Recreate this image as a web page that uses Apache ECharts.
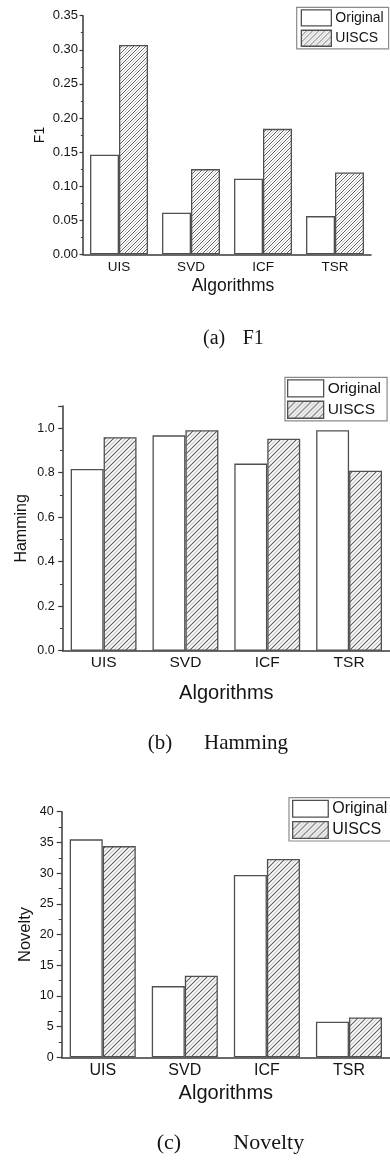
<!DOCTYPE html>
<html>
<head>
<meta charset="utf-8">
<title>Algorithms comparison</title>
<script src="https://cdn.jsdelivr.net/npm/echarts@6/dist/echarts.min.js"></script>
<style>
  html, body { margin: 0; padding: 0; background: #fff; }
  #chart { width: 390px; height: 1162px; }
</style>
</head>
<body>
<div id="chart"></div>
<script>
// Categories and series values
const categories = ['UIS', 'SVD', 'ICF', 'TSR'];
const seriesNames = ['Original', 'UISCS'];

const f1Original = [0.146, 0.061, 0.111, 0.056];
const f1Uiscs = [0.307, 0.125, 0.184, 0.120];

const hammingOriginal = [0.817, 0.968, 0.841, 0.991];
const hammingUiscs = [0.960, 0.991, 0.953, 0.809];

const noveltyOriginal = [35.5, 11.6, 29.7, 5.8];
const noveltyUiscs = [34.4, 13.3, 32.3, 6.5];

// Value axis ranges: [min, max, interval]
const f1Range = [0, 0.35, 0.05];
const hammingRange = [0, 1.1, 0.2];
const noveltyRange = [0, 40, 5];

// Sub-figure captions
const captions = [
  ['(a)', 'F1'],
  ['(b)', 'Hamming'],
  ['(c)', 'Novelty']
];

const SANS = "'Liberation Sans', Arial, sans-serif";
const SERIF = "'Liberation Serif', 'Times New Roman', serif";
const INK = '#141414';
const AXIS = '#3a3a3a';
const EDGE = '#505050';

// Diagonal hatch tile: dark "/" strokes with a lighter stroke between them
function hatch(size, dark, light, lw) {
  const c = document.createElement('canvas');
  c.width = size; c.height = size;
  const g = c.getContext('2d');
  g.fillStyle = '#fff';
  g.fillRect(0, 0, size, size);
  g.lineCap = 'square';
  function stroke(color, segs) {
    g.strokeStyle = color;
    g.lineWidth = lw;
    g.beginPath();
    segs.forEach(s => { g.moveTo(s[0], s[1]); g.lineTo(s[2], s[3]); });
    g.stroke();
  }
  const h = size / 2;
  stroke(dark, [[0, size, size, 0], [-h, h, h, -h], [h, size + h, size + h, h]]);
  stroke(light, [[0, h, h, 0], [h, size, size, h]]);
  return { image: c, repeat: 'repeat' };
}

const hatchSmall = hatch(6, '#5a5a5a', '#c4c4c4', 1);
const hatchLarge = hatch(8, '#5a5a5a', '#c4c4c4', 1.1);

const panels = [
  {
    grid: { left: 83, top: 15.7, width: 288, height: 238.6 },
    range: f1Range, digits: 2, name: 'F1',
    data: [f1Original, f1Uiscs], pattern: hatchSmall,
    tickFont: 13, catFont: 13.5, nameFont: 14, titleFont: 17.5,
    labelMargin: 6, yLabelMargin: 5, tickLen: 3.5, yNameGap: 36,
    xNameGap: 23, xNamePad: [0, 0, 0, 12],
    legend: { left: 296.7, top: 7.3, itemWidth: 30, itemHeight: 16, itemGap: 3, font: 14, padding: [2, 5, 2, 4] }
  },
  {
    grid: { left: 62.7, top: 406, width: 330, height: 244.7 },
    range: hammingRange, digits: 1, name: 'Hamming',
    data: [hammingOriginal, hammingUiscs], pattern: hatchLarge,
    tickFont: 12.5, catFont: 15.5, nameFont: 16, titleFont: 20,
    labelMargin: 4, yLabelMargin: 8, tickLen: 4.5, yNameGap: 33,
    xNameGap: 33, xNamePad: [0, 0, 0, 0],
    legend: { left: 285, top: 377.3, itemWidth: 36, itemHeight: 17, itemGap: 3, font: 15.5, padding: [2, 6, 2, 2] }
  },
  {
    grid: { left: 61.7, top: 811.7, width: 333, height: 245.6 },
    range: noveltyRange, digits: 0, name: 'Novelty',
    data: [noveltyOriginal, noveltyUiscs], pattern: hatchLarge,
    tickFont: 12.5, catFont: 16, nameFont: 16.5, titleFont: 20,
    labelMargin: 5.5, yLabelMargin: 8, tickLen: 5, yNameGap: 28,
    xNameGap: 26, xNamePad: [0, 0, 0, 0],
    legend: { left: 289, top: 797.7, itemWidth: 35.6, itemHeight: 16.7, itemGap: 3.3, font: 16, padding: [2, 6, 2, 3] }
  }
];

const option = {
  backgroundColor: '#fff',
  animation: false,
  grid: [], xAxis: [], yAxis: [], series: [], legend: [], graphic: []
};

panels.forEach((p, i) => {
  option.grid.push(Object.assign({ containLabel: false }, p.grid));

  option.xAxis.push({
    type: 'category', gridIndex: i, data: categories,
    name: 'Algorithms', nameLocation: 'middle', nameGap: p.xNameGap,
    nameMoveOverlap: false,
    nameTextStyle: { fontFamily: SANS, fontSize: p.titleFont, color: INK, padding: p.xNamePad },
    axisLine: { show: true, lineStyle: { color: AXIS, width: 1.5 } },
    axisTick: { show: false },
    axisLabel: { fontFamily: SANS, fontSize: p.catFont, color: INK, margin: p.labelMargin },
    splitLine: { show: false }
  });

  const [mn, mx, step] = p.range;
  // Labels only on whole multiples of the interval (the axis top may sit between them)
  const onStep = v => Math.abs(v / step - Math.round(v / step)) < 1e-6;
  option.yAxis.push({
    type: 'value', gridIndex: i, min: mn, max: mx, interval: step,
    name: p.name, nameLocation: 'middle', nameGap: p.yNameGap,
    nameMoveOverlap: false,
    nameTextStyle: { fontFamily: SANS, fontSize: p.nameFont, color: INK },
    axisLine: { show: true, lineStyle: { color: AXIS, width: 1.5 } },
    axisTick: { show: true, length: p.tickLen, lineStyle: { color: AXIS, width: 1.2 } },
    minorTick: { show: true, splitNumber: 2, length: p.tickLen * 0.6, lineStyle: { color: AXIS, width: 1 } },
    axisLabel: {
      fontFamily: SANS, fontSize: p.tickFont, color: INK, margin: p.yLabelMargin,
      showMaxLabel: true,
      formatter: v => onStep(v) ? v.toFixed(p.digits) : ''
    },
    splitLine: { show: false }
  });

  seriesNames.forEach((name, k) => {
    option.series.push({
      name: name, type: 'bar', xAxisIndex: i, yAxisIndex: i,
      data: p.data[k],
      barGap: '0%', barCategoryGap: '19.5%',
      itemStyle: {
        color: k === 0 ? '#fff' : p.pattern,
        borderColor: EDGE, borderWidth: 1.3
      }
    });
  });

  const L = p.legend;
  option.legend.push({
    orient: 'vertical', left: L.left, top: L.top,
    itemWidth: L.itemWidth, itemHeight: L.itemHeight, itemGap: L.itemGap,
    padding: L.padding, borderColor: '#8a8a8a', borderWidth: 1.2,
    backgroundColor: '#fff', selectedMode: false,
    icon: 'rect',
    textStyle: { fontFamily: SANS, fontSize: L.font, color: INK, lineHeight: L.itemHeight, padding: [0, 0, 0, -1] },
    data: [
      { name: 'Original', itemStyle: { color: '#fff', borderColor: EDGE, borderWidth: 1.3 } },
      { name: 'UISCS', itemStyle: { color: p.pattern, borderColor: EDGE, borderWidth: 1.3 } }
    ]
  });
});

// Captions below each panel
const capLayout = [
  { y: 338.3, x1: 203, x2: 242.7, size: 20 },
  { y: 743.3, x1: 147.7, x2: 204, size: 21 },
  { y: 1143, x1: 156.7, x2: 233.3, size: 22 }
];
captions.forEach((c, i) => {
  const L = capLayout[i];
  [[c[0], L.x1], [c[1], L.x2]].forEach(([t, x]) => {
    option.graphic.push({
      type: 'text', x: x, y: L.y,
      style: { text: t, fontFamily: SERIF, fontSize: L.size, fill: INK, verticalAlign: 'middle' }
    });
  });
});

const chart = echarts.init(document.getElementById('chart'), null, { renderer: 'canvas' });
chart.setOption(option);
</script>
</body>
</html>
